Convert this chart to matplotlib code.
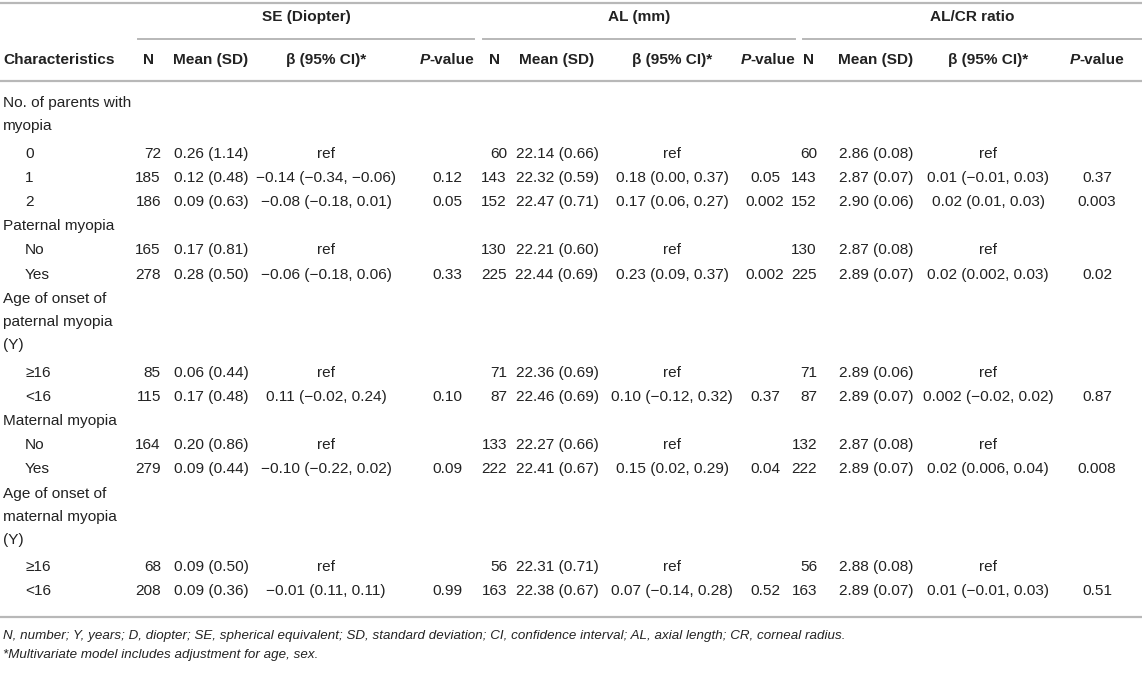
import matplotlib.pyplot as plt

plt.rcParams['font.family'] = ['Liberation Sans', 'DejaVu Sans']

# row labels (indented rows carry data)
labels = ["No. of parents with\nmyopia", "0", "1", "2",
          "Paternal myopia", "No", "Yes",
          "Age of onset of\npaternal myopia\n(Y)", "\u226516", "<16",
          "Maternal myopia", "No", "Yes",
          "Age of onset of\nmaternal myopia\n(Y)", "\u226516", "<16"]
indent = [False, True, True, True, False, True, True,
          False, True, True, False, True, True, False, True, True]

M = "\u2212"
se_n = ["72", "185", "186", "165", "278", "85", "115", "164", "279", "68", "208"]
se_mean = ["0.26 (1.14)", "0.12 (0.48)", "0.09 (0.63)", "0.17 (0.81)", "0.28 (0.50)",
           "0.06 (0.44)", "0.17 (0.48)", "0.20 (0.86)", "0.09 (0.44)", "0.09 (0.50)",
           "0.09 (0.36)"]
se_beta = ["ref", M + "0.14 (" + M + "0.34, " + M + "0.06)", M + "0.08 (" + M + "0.18, 0.01)",
           "ref", M + "0.06 (" + M + "0.18, 0.06)", "ref", "0.11 (" + M + "0.02, 0.24)",
           "ref", M + "0.10 (" + M + "0.22, 0.02)", "ref", M + "0.01 (0.11, 0.11)"]
se_p = ["", "0.12", "0.05", "", "0.33", "", "0.10", "", "0.09", "", "0.99"]

al_n = ["60", "143", "152", "130", "225", "71", "87", "133", "222", "56", "163"]
al_mean = ["22.14 (0.66)", "22.32 (0.59)", "22.47 (0.71)", "22.21 (0.60)", "22.44 (0.69)",
           "22.36 (0.69)", "22.46 (0.69)", "22.27 (0.66)", "22.41 (0.67)", "22.31 (0.71)",
           "22.38 (0.67)"]
al_beta = ["ref", "0.18 (0.00, 0.37)", "0.17 (0.06, 0.27)", "ref", "0.23 (0.09, 0.37)",
           "ref", "0.10 (" + M + "0.12, 0.32)", "ref", "0.15 (0.02, 0.29)", "ref",
           "0.07 (" + M + "0.14, 0.28)"]
al_p = ["", "0.05", "0.002", "", "0.002", "", "0.37", "", "0.04", "", "0.52"]

cr_n = ["60", "143", "152", "130", "225", "71", "87", "132", "222", "56", "163"]
cr_mean = ["2.86 (0.08)", "2.87 (0.07)", "2.90 (0.06)", "2.87 (0.08)", "2.89 (0.07)",
           "2.89 (0.06)", "2.89 (0.07)", "2.87 (0.08)", "2.89 (0.07)", "2.88 (0.08)",
           "2.89 (0.07)"]
cr_beta = ["ref", "0.01 (" + M + "0.01, 0.03)", "0.02 (0.01, 0.03)", "ref", "0.02 (0.002, 0.03)",
           "ref", "0.002 (" + M + "0.02, 0.02)", "ref", "0.02 (0.006, 0.04)", "ref",
           "0.01 (" + M + "0.01, 0.03)"]
cr_p = ["", "0.37", "0.003", "", "0.02", "", "0.87", "", "0.008", "", "0.51"]

groups = ["SE (Diopter)", "AL (mm)", "AL/CR ratio"]
footnotes = ["N, number; Y, years; D, diopter; SE, spherical equivalent; SD, standard deviation; "
             "CI, confidence interval; AL, axial length; CR, corneal radius.",
             "*Multivariate model includes adjustment for age, sex."]

W, H = 1142, 674
fig = plt.figure(figsize=(W / 100, H / 100), dpi=100)
ax = fig.add_axes([0, 0, 1, 1])
ax.set_xlim(0, W)
ax.set_ylim(H, 0)
ax.axis('off')

txt = '#222222'
lc = '#b8b8b8'
fs = 11.1

# rules
ax.plot([0, W], [3, 3], color=lc, lw=1.6)
ax.plot([0, W], [81, 81], color=lc, lw=1.6)
ax.plot([0, W], [617, 617], color=lc, lw=1.6)
spans = [(138, 474), (483, 795), (803, W)]
for (a, b), g in zip(spans, groups):
    ax.plot([a, b], [39, 39], color=lc, lw=1.4)
    ax.text((a + b) / 2, 17, g, ha='center', va='center', fontsize=fs, weight='bold', color=txt)

# column positions: n right edge, n header, mean, beta, p data, p header
cols = [(161, 148, 211, 326, 447, 447),
        (507, 494, 557, 672, 765, 768),
        (817, 808, 876, 988, 1097, 1097)]
series = [(se_n, se_mean, se_beta, se_p), (al_n, al_mean, al_beta, al_p),
          (cr_n, cr_mean, cr_beta, cr_p)]

yh = 60
ax.text(3, yh, "Characteristics", ha='left', va='center', fontsize=fs, weight='bold', color=txt)
fig.canvas.draw()
r = fig.canvas.get_renderer()
for nx, nh, mx, bx, px, ph in cols:
    ax.text(nh, yh, "N", ha='center', va='center', fontsize=fs, weight='bold', color=txt)
    ax.text(mx, yh, "Mean (SD)", ha='center', va='center', fontsize=fs, weight='bold', color=txt)
    ax.text(bx, yh, "\u03b2 (95% CI)*", ha='center', va='center', fontsize=fs, weight='bold', color=txt)
    # P-value with italic P
    t1 = ax.text(0, yh, "P", fontsize=fs, weight='bold', style='italic')
    t2 = ax.text(0, yh, "-value", fontsize=fs, weight='bold')
    w1 = t1.get_window_extent(r).width
    w2 = t2.get_window_extent(r).width
    t1.remove()
    t2.remove()
    x0 = ph - (w1 + w2) / 2
    ax.text(x0, yh, "P", ha='left', va='center', fontsize=fs, weight='bold', style='italic', color=txt)
    ax.text(x0 + w1, yh, "-value", ha='left', va='center', fontsize=fs, weight='bold', color=txt)

# body
y = 103
h1, lh, extra = 24.2, 23, 3.5
k = 0
for lab, ind in zip(labels, indent):
    lines = lab.split("\n")
    for j, ln in enumerate(lines):
        ax.text(25 if ind else 3, y + j * lh, ln, ha='left', va='center', fontsize=fs, color=txt)
    if ind:
        for (nx, nh, mx, bx, px, ph), (sn, sm, sb, sp) in zip(cols, series):
            ax.text(nx, y, sn[k], ha='right', va='center', fontsize=fs, color=txt)
            ax.text(mx, y, sm[k], ha='center', va='center', fontsize=fs, color=txt)
            ax.text(bx, y, sb[k], ha='center', va='center', fontsize=fs, color=txt)
            ax.text(px, y, sp[k], ha='center', va='center', fontsize=fs, color=txt)
        k += 1
    y += (len(lines) - 1) * lh + h1 + (extra if len(lines) > 1 else 0)

ax.text(3, 636, footnotes[0], ha='left', va='center', fontsize=9.6, style='italic', color=txt)
ax.text(3, 655, footnotes[1], ha='left', va='center', fontsize=9.6, style='italic', color=txt)

fig.savefig("out.png", dpi=100)
